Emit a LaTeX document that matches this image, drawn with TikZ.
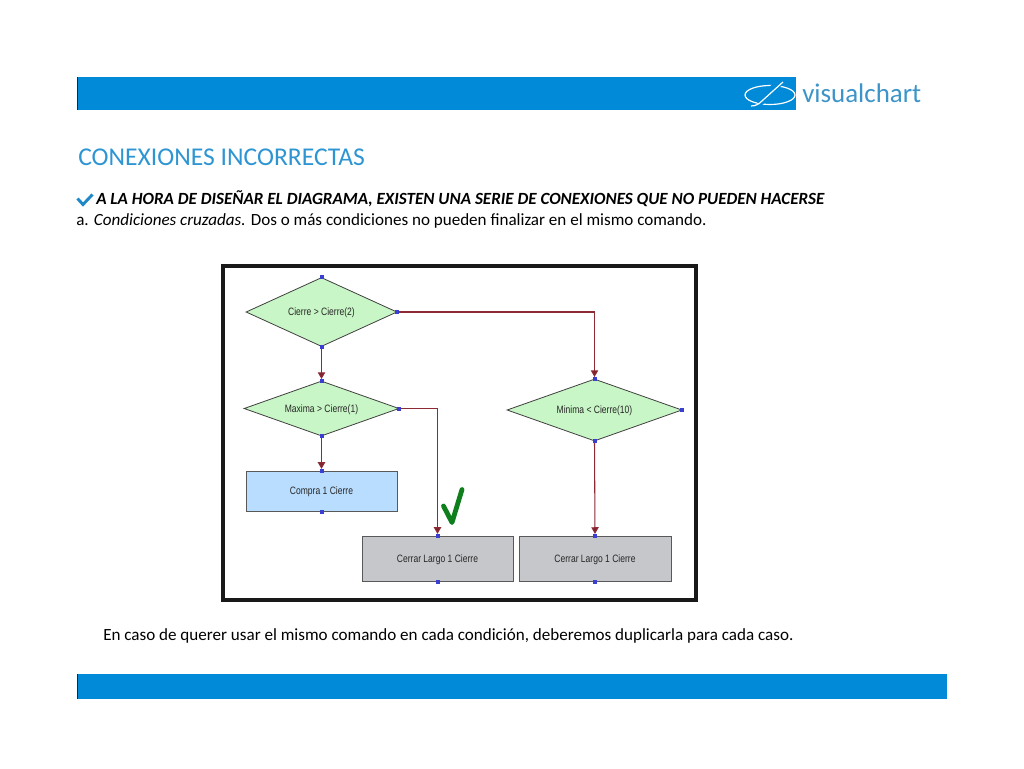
\documentclass[tikz,border=0pt]{standalone}
\usepackage{fontspec}
\setmainfont{Carlito}
\newfontfamily\nodefont[FakeStretch=0.8]{Liberation Sans}
\newfontfamily\logofont{Carlito}
\usetikzlibrary{shapes.geometric,arrows.meta}
\definecolor{barblue}{HTML}{008AD7}
\definecolor{titleblue}{HTML}{2E95D3}
\definecolor{logoblue}{HTML}{3C94C8}
\definecolor{dgreen}{HTML}{C9F6C6}
\definecolor{rblue}{HTML}{B9DDFF}
\definecolor{rgrey}{HTML}{C6C7CB}
\definecolor{connred}{HTML}{8E2A36}
\definecolor{dotblue}{HTML}{3A3FD0}
\definecolor{checkgreen}{HTML}{0F7F1E}
\definecolor{checkblue}{HTML}{1E88C8}
\tikzset{
  x=0.75pt,y=-0.75pt,
  dec/.style={diamond,draw=black!75,line width=0.6pt,fill=dgreen,inner sep=0pt,text depth=0pt,font=\nodefont\fontsize{8}{9}\selectfont,text=black!85},
  cmd/.style={rectangle,draw=black!65,line width=0.75pt,inner sep=0pt,text depth=0pt,font=\nodefont\fontsize{8}{9}\selectfont,text=black!85},
  port/.style={rectangle,fill=dotblue,inner sep=0pt,minimum size=3pt},
  conn/.style={draw=connred,line width=0.8pt},
  arr/.style={conn,-{Triangle[length=5pt,width=5.5pt,fill=connred!85!black]},shorten >=1.2pt},
  txt/.style={anchor=base west,inner sep=0pt,text=black},
}
\begin{document}
\begin{tikzpicture}
\useasboundingbox (0,0) rectangle (1024,768);
\fill[white] (0,0) rectangle (1024,768);
% bars
\fill[barblue] (78,77) rectangle (796,110);
\fill[barblue] (78,674) rectangle (947,699);
\draw[black!85,line width=1.2pt] (77.5,77) -- (77.5,110);
\draw[black!85,line width=1.2pt] (77.5,674) -- (77.5,699);
% logo
\draw[white,line width=0.9pt] (770,95) ellipse [x radius=25, y radius=9.5];
\fill[barblue] (755,100) -- (778,79) -- (784,83) -- (761,106) -- cycle;
\draw[white,line width=0.9pt] (751,106) .. controls (756,106) and (759,104) .. (763,100) -- (783,82);
\node[anchor=base west,inner sep=0pt,text=logoblue,font=\logofont\fontsize{20.2}{24}\selectfont] (logo) at (802,102) {visualchart};
% texts
\node[txt,text=titleblue,font=\fontsize{19.2}{22}\selectfont] (title) at (78,165.5) {CONEXIONES INCORRECTAS};
\draw[checkblue,line width=2.2pt,line join=miter] (77.5,198.5) -- (83,204.5) -- (92.5,194.5);
\node[txt,font=\fontsize{12.8}{15}\selectfont\bfseries\itshape] (head) at (96,204) {A LA HORA DE DISEÑAR EL DIAGRAMA, EXISTEN UNA SERIE DE CONEXIONES QUE NO PUEDEN HACERSE};
\node[txt,font=\fontsize{12.8}{15}\selectfont] (body) at (76,225) {a. \textit{Condiciones cruzadas.} Dos o más condiciones no pueden finalizar en el mismo comando.};
\node[txt,font=\fontsize{12.8}{15}\selectfont] (foot) at (103,640) {En caso de querer usar el mismo comando en cada condición, deberemos duplicarla para cada caso.};
% frame
\draw[black!90,line width=2.3pt,fill=white] (223,266) rectangle (696,600);
% nodes
\node[dec,shape aspect=2.19,minimum width=151*0.75pt,minimum height=69*0.75pt] (d1) at (321.5,312) {Cierre > Cierre(2)};
\node[dec,shape aspect=2.82,minimum width=155*0.75pt,minimum height=55*0.75pt] (d2) at (321.5,408.5) {Maxima > Cierre(1)};
\node[dec,shape aspect=2.82,minimum width=175*0.75pt,minimum height=62*0.75pt] (d3) at (594.5,410) {Minima < Cierre(10)};
\node[cmd,fill=rblue,minimum width=151*0.75pt,minimum height=40*0.75pt] (c1) at (321.5,491) {Compra 1 Cierre};
\node[cmd,fill=rgrey,minimum width=151*0.75pt,minimum height=45*0.75pt] (c2) at (437.5,558.5) {Cerrar Largo 1 Cierre};
\node[cmd,fill=rgrey,minimum width=152*0.75pt,minimum height=45*0.75pt] (c3) at (595,558.5) {Cerrar Largo 1 Cierre};
% ports
\foreach \n in {d1,d2,d3,c1,c2,c3}{
  \node[port] (\n t) at (\n.north) {};
  \node[port] (\n b) at (\n.south) {};
}
\node[port] (d1r) at (d1.east) {};
\node[port] (d2r) at (d2.east) {};
\node[port] (d3r) at (d3.east) {};
% connectors
\draw[arr] (d1b.center) -- (d2t.center);
\draw[arr] (d2b.center) -- (c1t.center);
\draw[arr] (d1r.center) -| (d3t.center);
\draw[arr] (d2r.center) -| (c2t.center);
\draw[arr] (d3b.center) -- (c3t.center);
\foreach \n in {d1b,d2b,d1r,d2r,d3b,d2t,d3t,c1t,c2t,c3t}{\node[port] at (\n.center) {};}
% green tick
\draw[checkgreen,line width=3.6pt,line cap=round,line join=round] (443.5,506) -- (452,522.5) -- (462,489.5);
\end{tikzpicture}
\end{document}
